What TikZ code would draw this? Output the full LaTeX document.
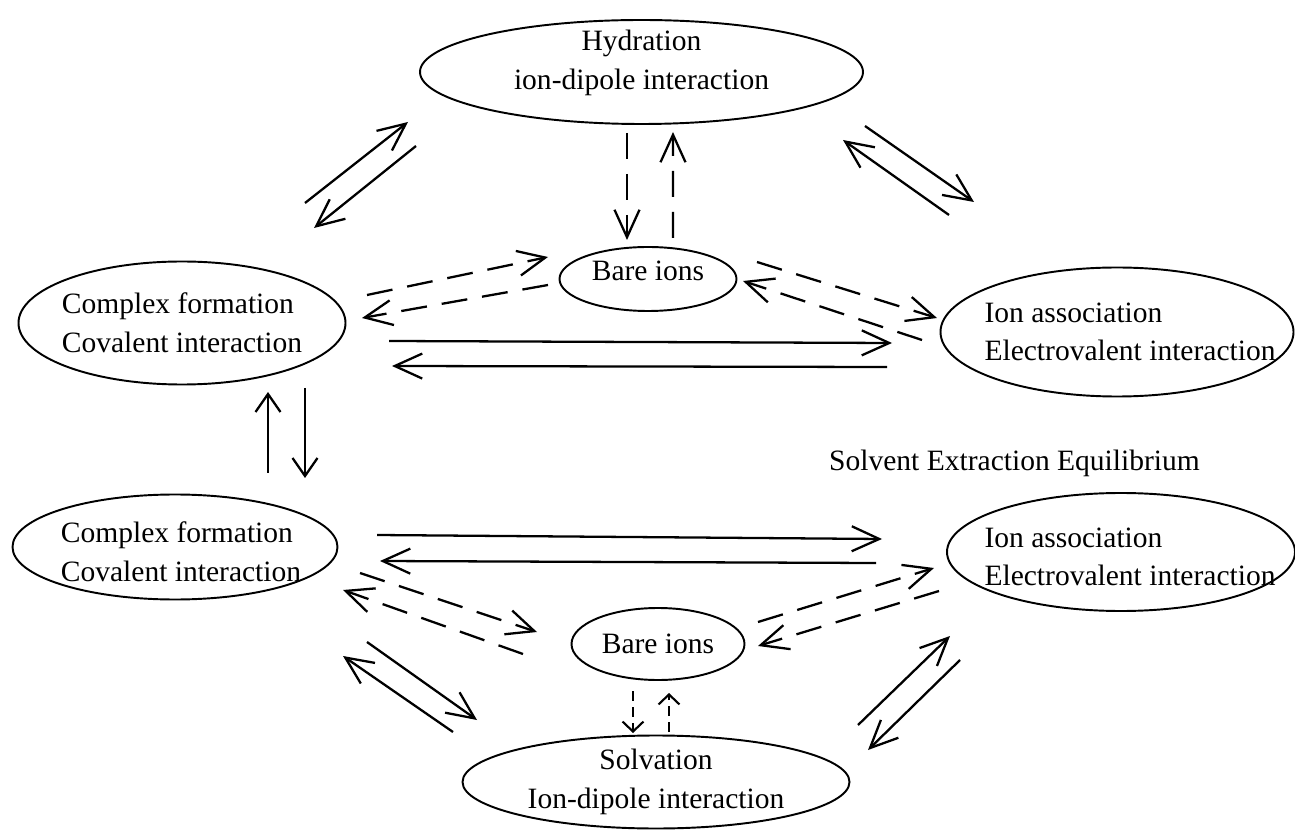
\documentclass[tikz,border=0pt]{standalone}
\usepackage{fontspec}
\setmainfont{Liberation Serif}
\usetikzlibrary{arrows.meta,shapes.geometric}
\tikzset{
  >={Straight Barb[length=5.5mm,width=5mm]},
  eqbox/.style={draw,ellipse,line width=1.1pt,inner sep=0pt,outer sep=0pt},
  eqlbl/.style={font=\fontsize{16.8pt}{22pt}\selectfont,inner sep=0pt},
  flow/.style={->,line width=1.3pt},
  vflow/.style={-{Straight Barb[length=3.6mm,width=5mm]},line width=1.3pt},
  dflow/.style={->,line width=1.3pt,dash pattern=on 5.2mm off 3mm},
  sdflow/.style={-{Straight Barb[length=2mm,width=4.2mm]},line width=1.2pt,
    dash pattern=on 2mm off 1.2mm},
}
\begin{document}
\begin{tikzpicture}[x=0.2mm,y=-0.2mm]
  \useasboundingbox (0,0) rectangle (1295,833);
  % upper cycle
  \node[eqbox,minimum width=8.86cm,minimum height=2.08cm,
    label={[eqlbl,align=center,yshift=1.8mm]center:Hydration\\ion-dipole interaction}] (hyd) at (641.5,72) {};
  \node[eqbox,minimum width=6.54cm,minimum height=2.46cm,
    label={[eqlbl,align=left]center:Complex formation\\Covalent interaction}] (ct) at (182,323) {};
  \node[eqbox,minimum width=3.54cm,minimum height=1.28cm,
    label={[eqlbl,yshift=1.6mm]center:Bare ions}] (bt) at (648,279) {};
  \node[eqbox,minimum width=7.06cm,minimum height=2.58cm,
    label={[eqlbl,align=left,xshift=2.6mm]center:Ion association\\Electrovalent interaction}] (it) at (1117,332) {};
  % lower cycle
  \node[eqbox,minimum width=6.5cm,minimum height=2.1cm,
    label={[eqlbl,align=left,xshift=1.2mm,yshift=-1mm]center:Complex formation\\Covalent interaction}] (cb) at (175,547) {};
  \node[eqbox,minimum width=3.46cm,minimum height=1.44cm,
    label={[eqlbl]center:Bare ions}] (bb) at (658,644) {};
  \node[eqbox,minimum width=6.96cm,minimum height=2.36cm,
    label={[eqlbl,align=left,xshift=1.8mm,yshift=-1mm]center:Ion association\\Electrovalent interaction}] (ib) at (1121,552) {};
  \node[eqbox,minimum width=7.74cm,minimum height=1.86cm,
    label={[eqlbl,align=center]center:Solvation\\Ion-dipole interaction}] (sb) at (656,782) {};
  \node[eqlbl] (title) at (1014.5,463) {Solvent Extraction Equilibrium};

  \draw[flow] ([shift={(123,-58.5)}]ct.north) -- ([shift={(-12,50)}]hyd.west);
  \draw[flow] ([shift={(-4,74)}]hyd.west) -- ([shift={(132,-33.5)}]ct.north);
  \draw[flow] ([shift={(2,54)}]hyd.east) -- ([shift={(-143,-65.5)}]it.north);
  \draw[flow] ([shift={(-168,-52.5)}]it.north) -- ([shift={(-20,68)}]hyd.east);
  \draw[dflow] ([shift={(-14.5,9)}]hyd.south) -- ([shift={(-21,-7)}]bt.north);
  \draw[dflow] ([shift={(25,-9)}]bt.north) -- ([shift={(31.5,8)}]hyd.south);
  \draw[dflow] ([shift={(21.5,-28)}]ct.east) -- ([shift={(-11.5,-22)}]bt.west);
  \draw[dflow] ([shift={(-11.5,6)}]bt.west) -- ([shift={(16.5,-5)}]ct.east);
  \draw[dflow] ([shift={(20.5,-17)}]bt.east) -- ([shift={(-3.5,-14)}]it.west);
  \draw[dflow] ([shift={(-18.5,8)}]it.west) -- ([shift={(6.5,2)}]bt.east);
  \draw[flow] ([shift={(43.5,18)}]ct.east) -- ([shift={(-48.5,11)}]it.west);
  \draw[flow] ([shift={(-53.5,35)}]it.west) -- ([shift={(46.5,43)}]ct.east);

  \draw[vflow] ([shift={(123,3.5)}]ct.south) -- ([shift={(130,-16.5)}]cb.north);
  \draw[vflow] ([shift={(93,-21.5)}]cb.north) -- ([shift={(86,7.5)}]ct.south);

  \draw[flow] ([shift={(39.5,-12)}]cb.east) -- ([shift={(-65,-13)}]ib.west);
  \draw[flow] ([shift={(-71,11)}]ib.west) -- ([shift={(42.5,14)}]cb.east);
  \draw[dflow] ([shift={(22.5,26)}]cb.east) -- ([shift={(-34.5,-12)}]bb.west);
  \draw[dflow] ([shift={(-48.5,10)}]bb.west) -- ([shift={(5.5,43)}]cb.east);
  \draw[dflow] ([shift={(13.5,-22)}]bb.east) -- ([shift={(-13,16)}]ib.west);
  \draw[dflow] ([shift={(-8,39)}]ib.west) -- ([shift={(13.5,2)}]bb.east);
  \draw[sdflow] ([shift={(-25,11)}]bb.south) -- ([shift={(-23,-2.5)}]sb.north);
  \draw[sdflow] ([shift={(13,-3.5)}]sb.north) -- ([shift={(11,13)}]bb.south);
  \draw[flow] ([shift={(192,42.5)}]cb.south) -- ([shift={(14.5,-62)}]sb.west);
  \draw[flow] ([shift={(-9.5,-50)}]sb.west) -- ([shift={(168,56.5)}]cb.south);
  \draw[flow] ([shift={(8.5,-57)}]sb.east) -- ([shift={(-171,25)}]ib.south);
  \draw[flow] ([shift={(-161,49)}]ib.south) -- ([shift={(18.5,-32)}]sb.east);
\end{tikzpicture}
\end{document}
